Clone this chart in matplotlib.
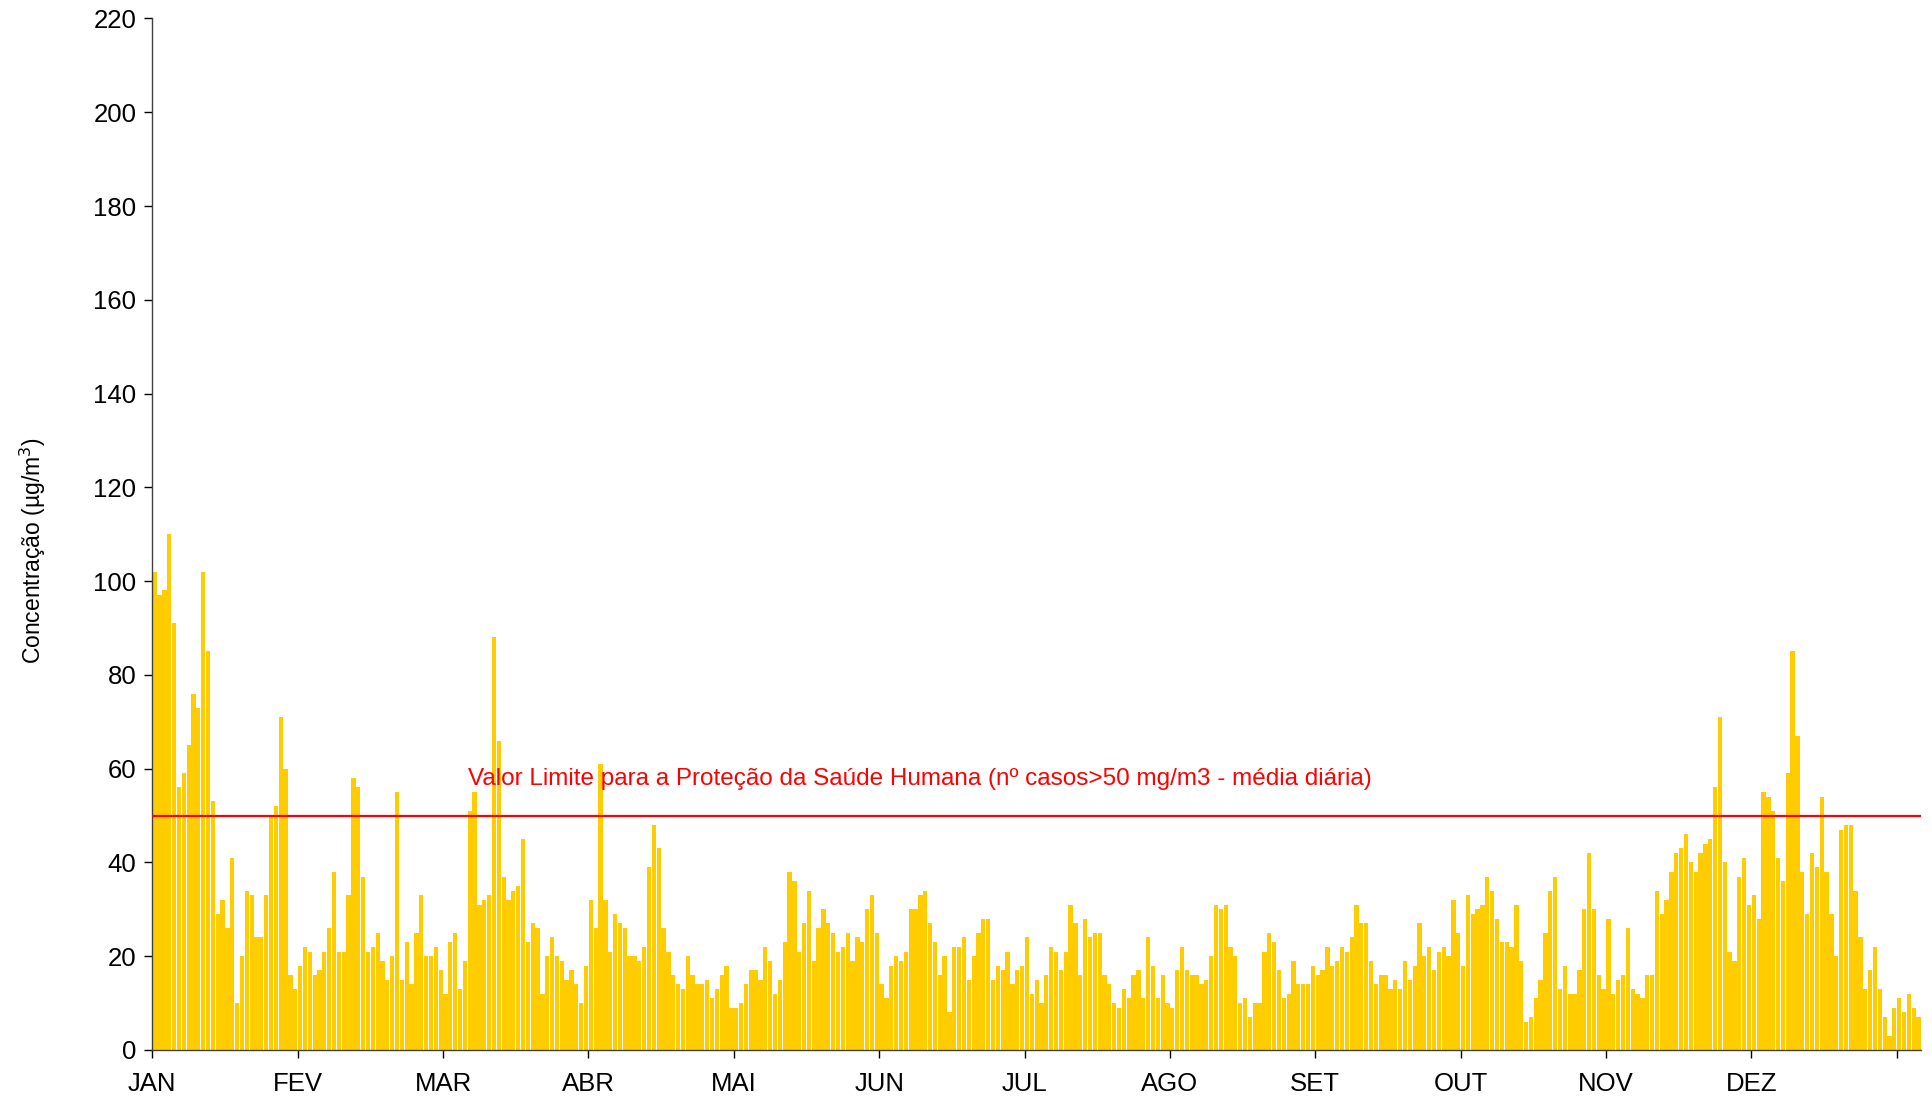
import matplotlib
matplotlib.use("Agg")
import matplotlib.pyplot as plt
import numpy as np

# Daily mean PM10 concentration (µg/m3), 365 days
concentracao = [
    102, 97, 98, 110, 91, 56, 59, 65, 76, 73, 102, 85, 53, 29, 32, 26, 41, 10, 20, 34, 33, 24, 24, 33, 50, 52, 71, 60, 16, 13,
    18, 22, 21, 16, 17, 21, 26, 38, 21, 21, 33, 58, 56, 37, 21, 22, 25, 19, 15, 20, 55, 15, 23, 14, 25, 33, 20, 20, 22, 17,
    12, 23, 25, 13, 19, 51, 55, 31, 32, 33, 88, 66, 37, 32, 34, 35, 45, 23, 27, 26, 12, 20, 24, 20, 19, 15, 17, 14, 10, 18,
    32, 26, 61, 32, 21, 29, 27, 26, 20, 20, 19, 22, 39, 48, 43, 26, 21, 16, 14, 13, 20, 16, 14, 14, 15, 11, 13, 16, 18, 9,
    9, 10, 14, 17, 17, 15, 22, 19, 12, 15, 23, 38, 36, 21, 27, 34, 19, 26, 30, 27, 25, 21, 22, 25, 19, 24, 23, 30, 33, 25,
    14, 11, 18, 20, 19, 21, 30, 30, 33, 34, 27, 23, 16, 20, 8, 22, 22, 24, 15, 20, 25, 28, 28, 15, 18, 17, 21, 14, 17, 18,
    24, 12, 15, 10, 16, 22, 21, 17, 21, 31, 27, 16, 28, 24, 25, 25, 16, 14, 10, 9, 13, 11, 16, 17, 11, 24, 18, 11, 16, 10,
    9, 17, 22, 17, 16, 16, 14, 15, 20, 31, 30, 31, 22, 20, 10, 11, 7, 10, 10, 21, 25, 23, 17, 11, 12, 19, 14, 14, 14, 18,
    16, 17, 22, 18, 19, 22, 21, 24, 31, 27, 27, 19, 14, 16, 16, 13, 15, 13, 19, 15, 18, 27, 20, 22, 17, 21, 22, 20, 32, 25,
    18, 33, 29, 30, 31, 37, 34, 28, 23, 23, 22, 31, 19, 6, 7, 11, 15, 25, 34, 37, 13, 18, 12, 12, 17, 30, 42, 30, 16, 13,
    28, 12, 15, 16, 26, 13, 12, 11, 16, 16, 34, 29, 32, 38, 42, 43, 46, 40, 38, 42, 44, 45, 56, 71, 40, 21, 19, 37, 41, 31,
    33, 28, 55, 54, 51, 41, 36, 59, 85, 67, 38, 29, 42, 39, 54, 38, 29, 20, 47, 48, 48, 34, 24, 13, 17, 22, 13, 7, 3, 9,
    11, 8, 12, 9, 7,
]
meses = ["JAN", "FEV", "MAR", "ABR", "MAI", "JUN", "JUL", "AGO", "SET", "OUT", "NOV", "DEZ"]
valor_limite = 50
texto_limite = "Valor Limite para a Proteção da Saúde Humana (nº casos>50 mg/m3 - média diária)"
y_ticks = list(range(0, 221, 20))

plt.rcParams["font.family"] = ["Liberation Sans", "DejaVu Sans"]

fig = plt.figure(figsize=(19.33, 10.99), dpi=100)
ax = fig.add_axes([0.0788, 0.0446, 0.9150, 0.9386])

dias = np.arange(len(concentracao))
ax.bar(dias, concentracao, width=0.88, color="#FFCC00", edgecolor="none", zorder=2)
ax.axhline(valor_limite, color="#FF0000", lw=1.6, zorder=3)
ax.text(64.6, 56.6, texto_limite, color="#FF0000", fontsize=17.5, ha="left", va="baseline", zorder=4)

ax.set_xlim(-0.5, len(concentracao) - 0.5)
ax.set_ylim(0, 220)
ax.set_yticks(y_ticks)
ax.tick_params(axis="y", labelsize=18.5, length=5.5, width=1, pad=6, direction="out", colors="black")

tick_pos = [-0.5 + 30 * k for k in range(13)]
ax.set_xticks(tick_pos)
ax.set_xticklabels(meses + [""])
ax.tick_params(axis="x", labelsize=18.5, length=5.5, width=1, pad=10, direction="out", colors="black")

for s in ["top", "right"]:
    ax.spines[s].set_visible(False)
for s in ["left", "bottom"]:
    ax.spines[s].set_color("#404040")
    ax.spines[s].set_linewidth(1.0)

ax.set_ylabel("Concentração (µg/m$^3$)", fontsize=16.5)
ax.yaxis.set_label_coords(-0.059, 0.484)

fig.savefig("out.png", dpi=100)
